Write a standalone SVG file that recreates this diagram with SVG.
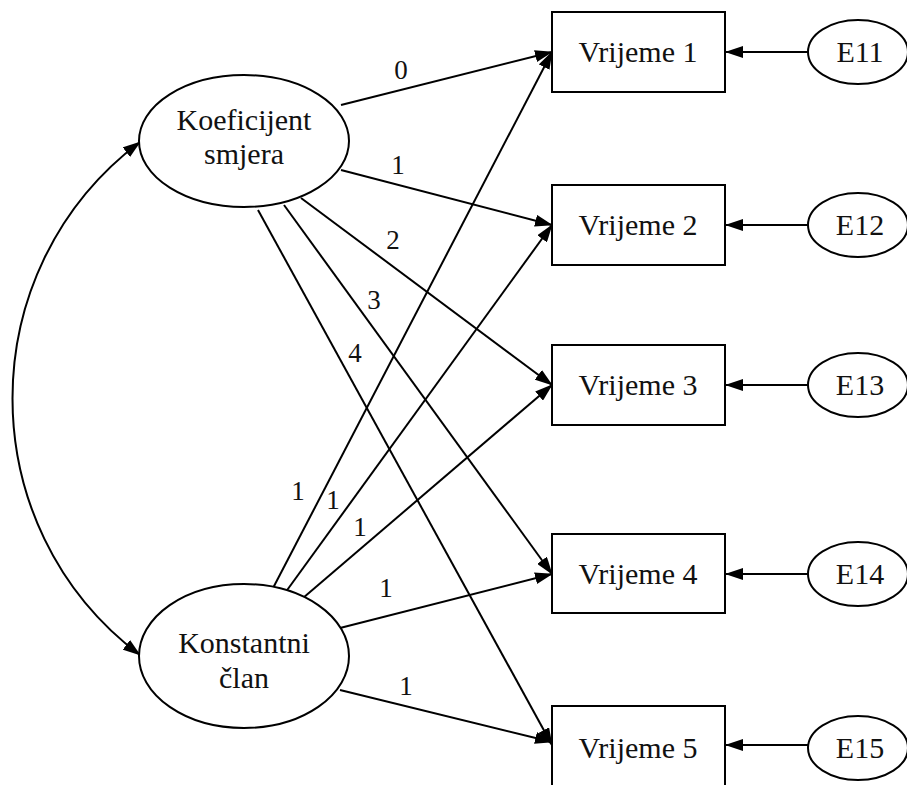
<svg xmlns="http://www.w3.org/2000/svg" width="907" height="785" viewBox="0 0 907 785">
<style>
.n{fill:#fff;stroke:#000;stroke-width:2}
text{font-family:"Liberation Serif","Times New Roman","DejaVu Serif",serif;fill:#111;text-anchor:middle}
.t{font-size:30px}
.l{font-size:27px}
.c{fill:none;stroke:#000;stroke-width:2;marker-end:url(#ah)}
</style>
<defs>
<marker id="ah" markerUnits="userSpaceOnUse" markerWidth="18" markerHeight="12" refX="17" refY="6" orient="auto-start-reverse">
<path d="M0,0 L18,6 L0,12 Z" fill="#000"/>
</marker>
</defs>
<g id="connectors">
<path class="c" d="M140,142 C-30,270 -30,527 140,655" marker-start="url(#ah)"/>
<line class="c" x1="341" y1="105" x2="552" y2="52"/>
<line class="c" x1="341" y1="170" x2="552" y2="225"/>
<line class="c" x1="301" y1="198" x2="552" y2="385"/>
<line class="c" x1="284" y1="205" x2="552" y2="574"/>
<line class="c" x1="258" y1="210" x2="552" y2="745"/>
<line class="c" x1="272" y1="590" x2="552" y2="52"/>
<line class="c" x1="285" y1="593" x2="552" y2="225"/>
<line class="c" x1="303" y1="598" x2="552" y2="385"/>
<line class="c" x1="340" y1="628" x2="552" y2="574"/>
<line class="c" x1="340" y1="690" x2="552" y2="742"/>
<line class="c" x1="808" y1="52" x2="726" y2="52"/>
<line class="c" x1="808" y1="225" x2="726" y2="225"/>
<line class="c" x1="808" y1="385" x2="726" y2="385"/>
<line class="c" x1="808" y1="574" x2="726" y2="574"/>
<line class="c" x1="808" y1="745" x2="726" y2="745"/>
<text class="l" x="401" y="79">0</text>
<text class="l" x="398" y="174">1</text>
<text class="l" x="393" y="249">2</text>
<text class="l" x="374" y="309">3</text>
<text class="l" x="355" y="362">4</text>
<text class="l" x="298" y="500">1</text>
<text class="l" x="333" y="509">1</text>
<text class="l" x="360" y="536">1</text>
<text class="l" x="386" y="597">1</text>
<text class="l" x="406" y="695">1</text>
</g>
<g id="koeficijent">
<ellipse class="n" cx="244" cy="141" rx="105" ry="66"/>
<text class="t" x="244" y="130">Koeficijent</text>
<text class="t" x="244" y="164">smjera</text>
</g>
<g id="konstantni">
<ellipse class="n" cx="244" cy="656" rx="105" ry="72"/>
<text class="t" x="244" y="653">Konstantni</text>
<text class="t" x="244" y="688">član</text>
</g>
<g id="v1"><rect class="n" x="552" y="12" width="173" height="80"/><text class="t" x="638" y="62">Vrijeme 1</text></g>
<g id="v2"><rect class="n" x="552" y="185" width="173" height="80"/><text class="t" x="638" y="235">Vrijeme 2</text></g>
<g id="v3"><rect class="n" x="552" y="345" width="173" height="80"/><text class="t" x="638" y="395">Vrijeme 3</text></g>
<g id="v4"><rect class="n" x="552" y="534" width="173" height="79"/><text class="t" x="638" y="584">Vrijeme 4</text></g>
<g id="v5"><rect class="n" x="552" y="706" width="173" height="82"/><text class="t" x="638" y="758">Vrijeme 5</text></g>
<g id="e11"><ellipse class="n" cx="858" cy="52" rx="50" ry="32"/><text class="t" x="860" y="62">E11</text></g>
<g id="e12"><ellipse class="n" cx="858" cy="225" rx="50" ry="32"/><text class="t" x="860" y="235">E12</text></g>
<g id="e13"><ellipse class="n" cx="858" cy="385" rx="50" ry="32"/><text class="t" x="860" y="395">E13</text></g>
<g id="e14"><ellipse class="n" cx="858" cy="574" rx="50" ry="32"/><text class="t" x="860" y="584">E14</text></g>
<g id="e15"><ellipse class="n" cx="858" cy="748" rx="50" ry="32"/><text class="t" x="860" y="758">E15</text></g>
</svg>
